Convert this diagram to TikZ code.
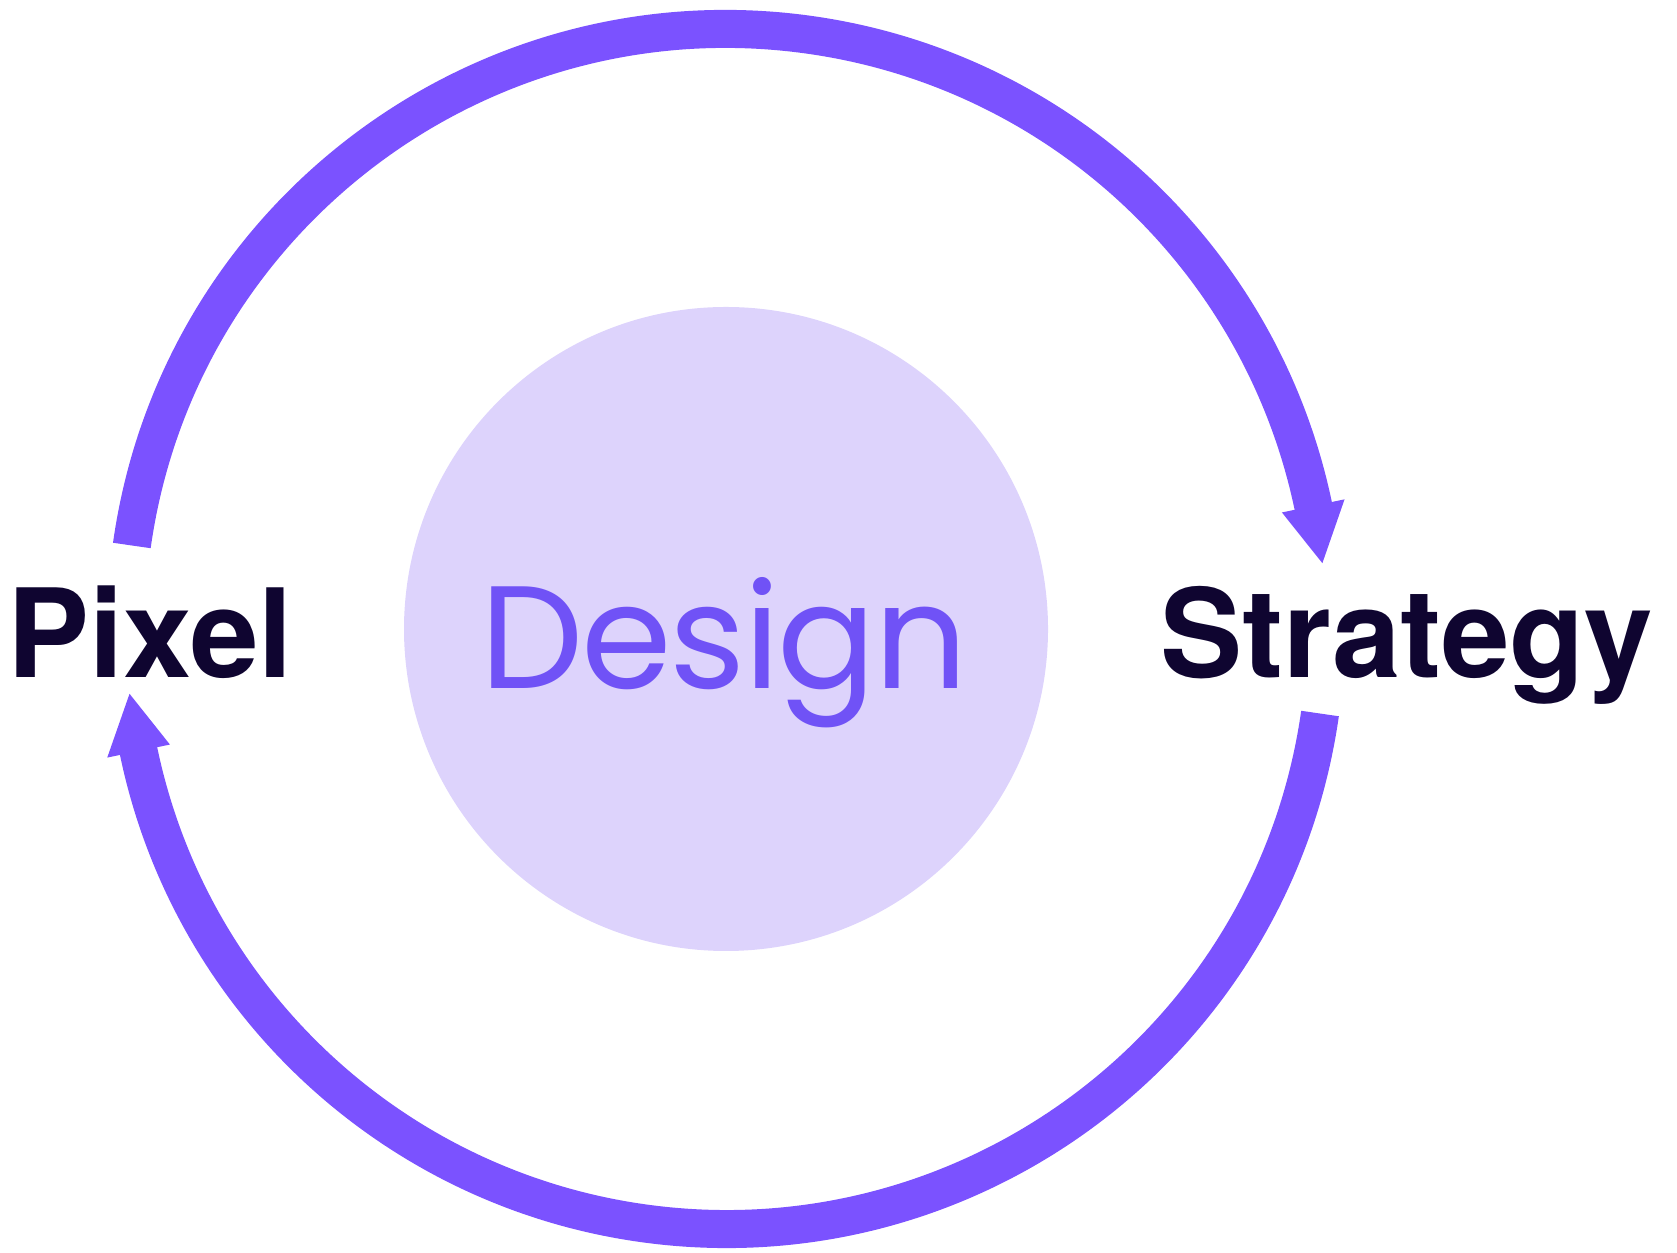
\documentclass[tikz,border=0pt]{standalone}
\usepackage{fontspec}
\usepackage{tikz}
\usetikzlibrary{calc}
\newfontfamily\sidefont{TeX Gyre Heros}
\newfontfamily\hubfont{Poppins}[LetterSpace=-1.5]
\definecolor{ringviolet}{HTML}{7B52FF}
\definecolor{hubviolet}{HTML}{7052F6}
\definecolor{hublilac}{HTML}{DDD3FC}
\definecolor{labelink}{HTML}{0F0530}

\begin{document}
\begin{tikzpicture}[x=0.01cm, y=0.01cm,
	cyclearc/.style={draw=ringviolet, line width=3.8mm},
	cyclehead/.style={fill=ringviolet},
	sidelabel/.style={anchor=base, inner sep=0pt, text=labelink, font=\sidefont\bfseries\fontsize{35}{40}\selectfont}]
	\path[use as bounding box] (0, 0) rectangle (1677, 1252);
\coordinate (ctr) at (726, 623);
\fill[hublilac] (ctr) circle[radius=322];
\node[anchor=base, inner sep=0pt, text=hubviolet, font=\hubfont\fontsize{41.5}{50}\selectfont] (design) at (724, 563) {Design};
\node[sidelabel] (pixel) at (150, 574) {Pixel};
\node[sidelabel] (strategy) at (1407, 574) {Strategy};
\path (ctr) ++(172:600) coordinate (pixelend);
\path (ctr) ++(-8.1:600) coordinate (strategyend);
\path (ctr) ++(6.3:600) coordinate (strategytip);
\path (ctr) ++(-173.8:600) coordinate (pixeltip);
\draw[cyclearc] (pixelend) arc[start angle=172, end angle=11.5, radius=600];
\fill[cyclehead] (strategytip) -- ($(ctr)+(11.84:568)$) -- ($(ctr)+(11.84:632)$) -- cycle;
\draw[cyclearc] (strategyend) arc[start angle=-8.1, end angle=-168.6, radius=600];
\fill[cyclehead] (pixeltip) -- ($(ctr)+(-168.26:568)$) -- ($(ctr)+(-168.26:632)$) -- cycle;
		\end{tikzpicture}
\end{document}
